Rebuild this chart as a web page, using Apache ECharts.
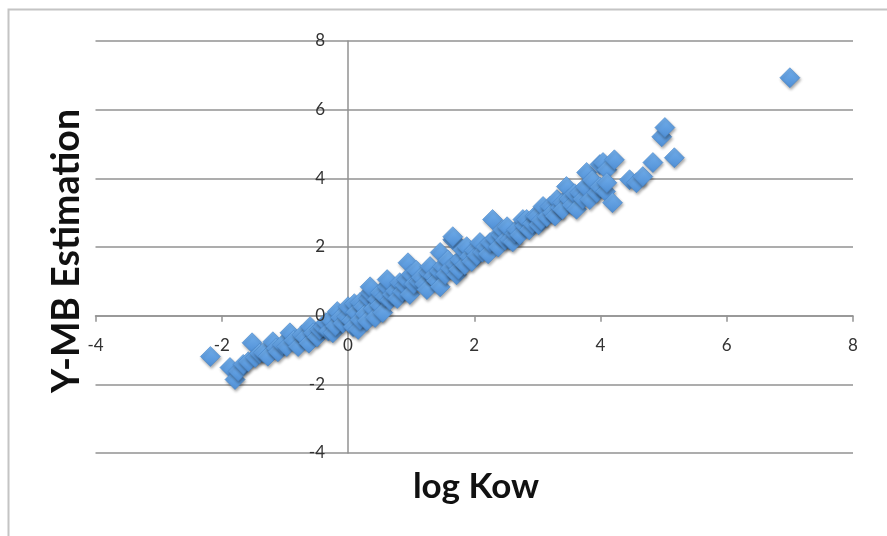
<!DOCTYPE html>
<html>
<head>
<meta charset="utf-8">
<script src="https://cdn.jsdelivr.net/npm/echarts@6/dist/echarts.min.js"></script>
<style>
html,body{margin:0;padding:0;background:#fff;}
#chart{width:887px;height:536px;}
</style>
</head>
<body>
<div id="chart"></div>
<script>
// Data
var logKow = [
-2.18,-1.87,-1.79,-1.74,-1.66,-1.58,-1.52,-1.47,-1.40,-1.34,-1.27,-1.19,-1.14,-1.11,-1.04,-0.97,-0.92,-0.86,-0.79,-0.73,
-0.68,-0.62,-0.60,-0.55,-0.49,-0.45,-0.40,-0.35,-0.31,-0.28,-0.24,-0.20,-0.17,-0.12,-0.08,-0.02,0.00,0.05,0.08,0.10,
0.12,0.16,0.19,0.19,0.24,0.27,0.30,0.33,0.35,0.35,0.40,0.43,0.46,0.50,0.51,0.55,0.58,0.62,0.62,0.66,
0.70,0.75,0.78,0.82,0.86,0.90,0.93,0.95,0.98,1.00,1.04,1.08,1.12,1.16,1.21,1.25,1.28,1.30,1.35,1.40,
1.44,1.46,1.46,1.50,1.54,1.58,1.62,1.66,1.66,1.70,1.72,1.75,1.77,1.82,1.85,1.88,1.92,1.96,2.00,2.04,
2.09,2.13,2.18,2.22,2.25,2.29,2.33,2.38,2.42,2.45,2.49,2.52,2.56,2.61,2.64,2.67,2.72,2.77,2.80,2.83,
2.87,2.92,2.96,2.99,3.02,3.06,3.09,3.15,3.20,3.24,3.28,3.31,3.36,3.40,3.40,3.46,3.50,3.55,3.59,3.62,
3.67,3.72,3.76,3.78,3.83,3.87,3.94,3.99,3.99,4.04,4.08,4.10,4.10,4.19,4.22,4.46,4.57,4.67,4.83,4.97,
5.02,5.17,7.00
];
var ymbEstimation = [
-1.19,-1.51,-1.86,-1.62,-1.42,-1.34,-0.79,-1.22,-1.10,-1.08,-1.18,-0.76,-0.95,-1.05,-0.85,-0.90,-0.50,-0.72,-0.90,-0.56,
-0.64,-0.80,-0.32,-0.50,-0.62,-0.40,-0.32,-0.20,-0.45,-0.12,-0.50,-0.30,0.12,-0.05,-0.22,-0.03,0.26,-0.15,-0.32,0.35,
0.10,-0.40,-0.12,0.38,0.26,0.05,-0.15,0.50,0.67,0.84,0.20,-0.05,0.47,0.30,0.67,0.09,0.55,0.84,1.05,0.45,
0.62,0.72,0.50,0.96,0.70,0.88,1.05,1.54,0.62,1.20,0.92,1.32,1.00,1.12,0.92,0.76,1.25,1.43,1.15,1.02,
1.30,0.84,1.84,1.43,1.20,1.62,1.38,2.21,2.30,1.50,1.19,1.35,1.63,1.92,1.48,2.01,1.72,1.58,1.90,1.75,
2.13,1.85,2.00,1.80,2.13,2.80,2.25,2.00,2.35,2.50,2.20,2.59,2.21,2.15,2.40,2.50,2.35,2.80,2.62,2.80,
2.50,2.68,2.90,2.88,2.65,2.78,3.18,2.88,3.18,3.00,2.90,3.38,3.15,3.29,3.09,3.76,3.40,3.22,3.55,3.10,
3.58,3.40,3.75,4.17,3.38,3.95,3.58,4.40,3.75,4.46,3.62,4.25,3.87,3.29,4.54,3.96,3.87,4.05,4.46,5.21,
5.48,4.60,6.93
];
var xTitle = 'log Kow';
var yTitle = 'Y-MB Estimation';
var axisMin = -4, axisMax = 8, axisStep = 2;

var points = logKow.map(function (x, i) { return [x, ymbEstimation[i]]; });

var chart = echarts.init(document.getElementById('chart'), null, {renderer: 'canvas'});
var lineCol = '#929292';
var labelStyle = {color: '#333333', fontFamily: 'Lato', fontSize: 17};

chart.setOption({
  animation: false,
  backgroundColor: '#ffffff',
  grid: {left: 95.5, right: 34, top: 41, bottom: 83, containLabel: false, outerBoundsMode: 'none'},
  xAxis: [
    {
      type: 'value', min: axisMin, max: axisMax, interval: axisStep, position: 'bottom',
      axisLine: {show: true, onZero: true, lineStyle: {color: lineCol, width: 1.5}},
      axisTick: {show: true, length: 6, inside: false, lineStyle: {color: lineCol, width: 1.5}},
      axisLabel: {show: false},
      splitLine: {show: false}
    },
    {
      // label-only copy of the x axis, drawn above the markers
      type: 'value', min: axisMin, max: axisMax, interval: axisStep, position: 'bottom', z: 10,
      axisLine: {show: false, onZero: false},
      axisTick: {show: false},
      axisLabel: Object.assign({show: true, margin: 21}, labelStyle),
      splitLine: {show: false}
    }
  ],
  yAxis: [
    {
      type: 'value', min: axisMin, max: axisMax, interval: axisStep, position: 'left',
      axisLine: {show: true, onZero: true, lineStyle: {color: lineCol, width: 1.5}},
      axisTick: {show: false},
      axisLabel: {show: false},
      splitLine: {show: true, lineStyle: {color: lineCol, width: 1.5}}
    },
    {
      // label-only copy of the y axis, drawn above the markers
      type: 'value', min: axisMin, max: axisMax, interval: axisStep, position: 'left', z: 10,
      axisLine: {show: false, onZero: false},
      axisTick: {show: false},
      axisLabel: Object.assign({show: true, margin: 23, padding: [9, 0, 0, 0]}, labelStyle),
      splitLine: {show: false}
    }
  ],
  graphic: [
    {type: 'rect', z: -10, silent: true, shape: {x: 8.5, y: 9.5, width: 1000, height: 1000},
     style: {fill: 'none', stroke: '#c4c4c4', lineWidth: 2}},
    {type: 'text', x: 476, y: 487, silent: true,
     style: {text: xTitle, fontFamily: 'Lato', fontWeight: 'bold', fontSize: 35, fill: '#111',
             textAlign: 'center', textVerticalAlign: 'middle'}},
    {type: 'text', x: 67, y: 251, rotation: Math.PI / 2, silent: true,
     style: {text: yTitle, fontFamily: 'Lato', fontWeight: 'bold', fontSize: 37.5, fill: '#111',
             textAlign: 'center', textVerticalAlign: 'middle'}}
  ],
  series: [{
    type: 'scatter',
    xAxisIndex: 0, yAxisIndex: 0,
    symbol: 'diamond',
    symbolSize: 20,
    data: points,
    itemStyle: {
      color: new echarts.graphic.LinearGradient(0, 0, 0, 1, [
        {offset: 0, color: '#74b0ec'},
        {offset: 1, color: '#4f8fd6'}
      ]),
      borderColor: '#4a86c8', borderWidth: 0.6,
      shadowColor: 'rgba(0,0,0,0.35)', shadowBlur: 3, shadowOffsetX: 1, shadowOffsetY: 2,
      opacity: 1
    },
    z: 2
  }]
});

// Move the label-only axes onto the zero lines of the main axes
var zeroX = chart.convertToPixel({xAxisIndex: 0}, 0);
var leftX = chart.convertToPixel({xAxisIndex: 0}, axisMin);
var zeroY = chart.convertToPixel({yAxisIndex: 0}, 0);
var bottomY = chart.convertToPixel({yAxisIndex: 0}, axisMin);
chart.setOption({
  xAxis: [{}, {offset: -(bottomY - zeroY)}],
  yAxis: [{}, {offset: -(zeroX - leftX)}]
});
</script>
</body>
</html>
